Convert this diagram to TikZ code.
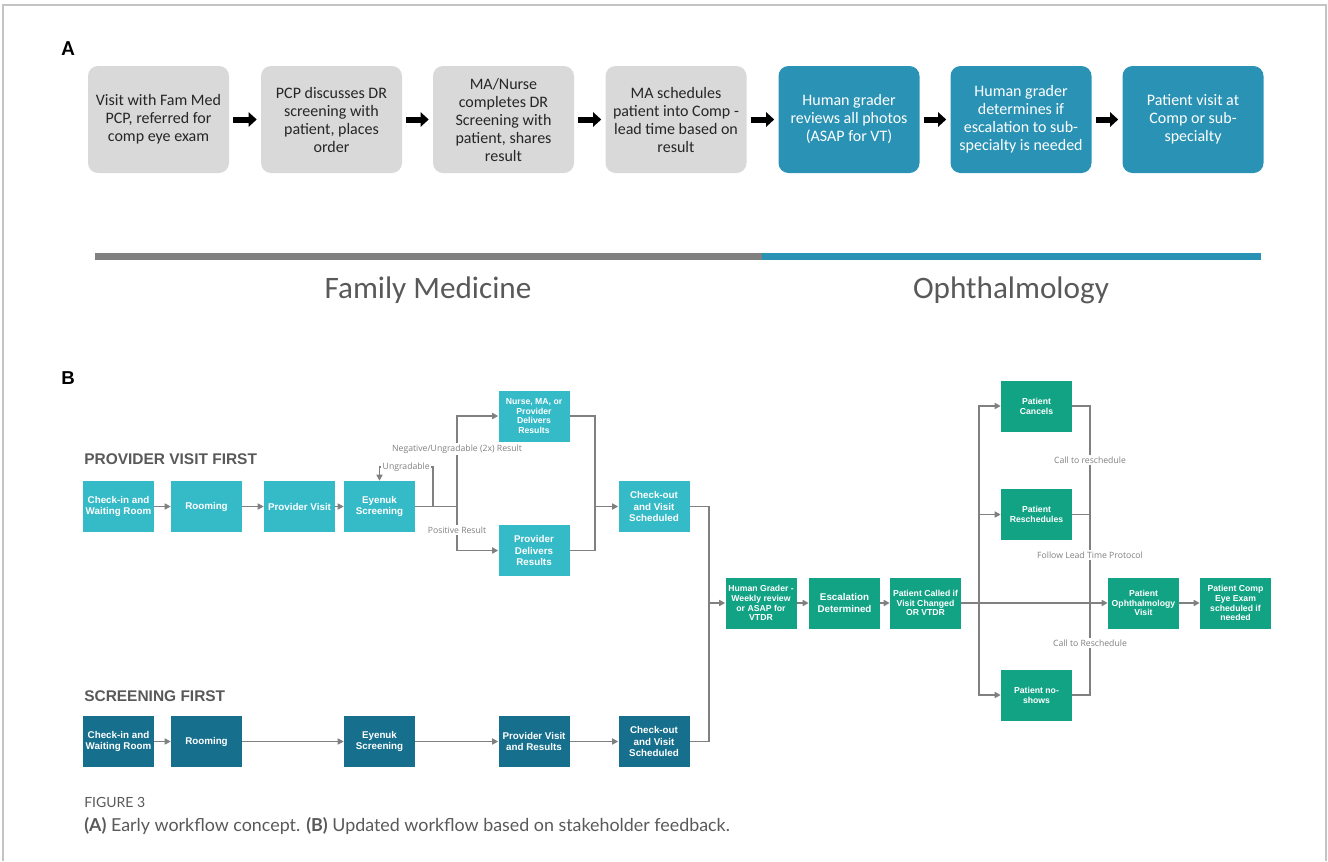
\documentclass[tikz,border=0pt]{standalone}
\usepackage{fontspec}
\setmainfont{Carlito}
\newfontfamily\arialfont{Liberation Sans}
\newfontfamily\labelfont{Open Sans}
\newfontfamily\captionfont{Lato}
\usetikzlibrary{arrows.meta}
\definecolor{boxgray}{HTML}{D9D9D9}
\definecolor{ophblue}{HTML}{2A93B5}
\definecolor{lightteal}{HTML}{35BAC8}
\definecolor{darkteal}{HTML}{166F8D}
\definecolor{stepgreen}{HTML}{12A385}
\definecolor{linegray}{HTML}{808080}
\definecolor{textgray}{HTML}{595959}
\definecolor{framegray}{HTML}{C4C4C4}
\begin{document}
\begin{tikzpicture}[x=0.75pt,y=-0.75pt,>={Triangle[length=4.5pt,width=4.5pt]}]
  \tikzstyle{stageA}=[rounded corners=7.5pt, minimum width=105.75pt, minimum height=80.25pt,
    align=center, inner sep=2pt, font=\fontsize{12}{13.5}\selectfont]
  \tikzstyle{fmbox}=[stageA, fill=boxgray, text=black!85]
  \tikzstyle{ophbox}=[stageA, fill=ophblue, text=white]
  \tikzstyle{bigarrow}=[line width=4.5pt, -{Triangle[length=6pt,width=10.5pt]},
    shorten <=3pt, shorten >=3pt]
  \tikzstyle{stepbox}=[minimum width=53.25pt, minimum height=38.25pt, inner sep=1pt,
    align=center, text=white, font=\arialfont\bfseries\fontsize{7.35}{8.3}\selectfont]
  \tikzstyle{stepsmall}=[stepbox, font=\arialfont\bfseries\fontsize{6.5}{7.4}\selectfont]
  \tikzstyle{flow}=[draw=linegray, line width=1.4pt, ->]
  \tikzstyle{wire}=[draw=linegray, line width=1.4pt]
  \tikzstyle{cond}=[fill=white, inner sep=1pt, text=linegray,
    font=\labelfont\fontsize{6.5}{7}\selectfont]
  \tikzstyle{rowtitle}=[anchor=west, inner sep=0pt, text=textgray,
    font=\arialfont\bfseries\fontsize{11.6}{13}\selectfont]

  \useasboundingbox (0,0) rectangle (1328,861);
  \draw[framegray, line width=1pt] (3,861) -- (3,5) -- (1326,5) -- (1326,861);

  % panel A
  \node[font=\bfseries\fontsize{16}{17}\selectfont] (labA) at (68,49) {A};
  \node[fmbox] (visit) at (158.5,119.5) {Visit with Fam Med\\PCP, referred for\\comp eye exam};
  \node[fmbox] (discuss) at (331.5,119.5) {PCP discusses DR\\screening with\\patient, places\\order};
  \node[fmbox] (complete) at (503.5,119.5) {MA/Nurse\\completes DR\\Screening with\\patient, shares\\result};
  \node[fmbox] (schedule) at (676,119.5) {MA schedules\\patient into Comp -\\lead time based on\\result};
  \node[ophbox] (review) at (849,119.5) {Human grader\\reviews all photos\\(ASAP for VT)};
  \node[ophbox] (escalate) at (1021,119.5) {Human grader\\determines if\\escalation to sub-\\specialty is needed};
  \node[ophbox] (compvisit) at (1193,119.5) {Patient visit at\\Comp or sub-\\specialty};

  \draw[bigarrow] (visit) -- (discuss);
  \draw[bigarrow] (discuss) -- (complete);
  \draw[bigarrow] (complete) -- (schedule);
  \draw[bigarrow] (schedule) -- (review);
  \draw[bigarrow] (review) -- (escalate);
  \draw[bigarrow] (escalate) -- (compvisit);

  \draw[linegray, line width=5.25pt] (95,256) -- (762,256);
  \draw[ophblue, line width=5.25pt] (762,256) -- (1261,256);
  \node[text=textgray, font=\fontsize{23.4}{26}\selectfont] (fmlabel) at (428,290) {Family Medicine};
  \node[text=textgray, font=\fontsize{23.4}{26}\selectfont] (ophlabel) at (1011,290) {Ophthalmology};

  % panel B
  \node[font=\arialfont\bfseries\fontsize{14}{15}\selectfont] (labB) at (68,378) {B};
  \node[rowtitle] (pvtitle) at (84,459) {PROVIDER VISIT FIRST};
  \node[rowtitle] (sftitle) at (84,696) {SCREENING FIRST};

  \node[stepbox, fill=lightteal] (ci1) at (118.5,506.5) {Check-in and\\Waiting Room};
  \node[stepbox, fill=lightteal] (room1) at (206.5,506.5) {Rooming};
  \node[stepbox, fill=lightteal] (pv1) at (299.5,506.5) {Provider Visit};
  \node[stepbox, fill=lightteal] (eye1) at (379.5,506.5) {Eyenuk\\Screening};
  \node[stepsmall, fill=lightteal] (nurse) at (534,416) {Nurse, MA, or\\Provider\\Delivers\\Results};
  \node[stepbox, fill=lightteal] (pdel) at (534,550.5) {Provider\\Delivers\\Results};
  \node[stepbox, fill=lightteal] (co1) at (654,506.5) {Check-out\\and Visit\\Scheduled};

  \node[stepbox, fill=darkteal] (ci2) at (118.5,741.5) {Check-in and\\Waiting Room};
  \node[stepbox, fill=darkteal] (room2) at (206.5,741.5) {Rooming};
  \node[stepbox, fill=darkteal] (eye2) at (379.5,741.5) {Eyenuk\\Screening};
  \node[stepbox, fill=darkteal] (pvr2) at (534,741.5) {Provider Visit\\and Results};
  \node[stepbox, fill=darkteal] (co2) at (654,741.5) {Check-out\\and Visit\\Scheduled};

  \node[stepsmall, fill=stepgreen] (hg) at (761,603) {Human Grader -\\Weekly review\\or ASAP for\\VTDR};
  \node[stepbox, fill=stepgreen] (esc) at (844.5,603) {Escalation\\Determined};
  \node[stepsmall, fill=stepgreen] (call) at (925.5,603) {Patient Called if\\Visit Changed\\OR VTDR};
  \node[stepsmall, fill=stepgreen] (canc) at (1036.5,406) {Patient\\Cancels};
  \node[stepsmall, fill=stepgreen] (resch) at (1036.5,514.5) {Patient\\Reschedules};
  \node[stepsmall, fill=stepgreen] (nosh) at (1036.5,695) {Patient no-\\shows};
  \node[stepsmall, fill=stepgreen] (oph) at (1143.5,603) {Patient\\Ophthalmology\\Visit};
  \node[stepsmall, fill=stepgreen] (comp) at (1235.5,603) {Patient Comp\\Eye Exam\\scheduled if\\needed};

  \coordinate (ugj) at (433,506.5);
  \coordinate (ugtop) at (433,467);
  \coordinate (split1) at (457,506.5);
  \coordinate (join1) at (595,506.5);
  \coordinate (join2) at (709,603);
  \coordinate (split2) at (979,603);
  \coordinate (back) at (1090,550);

  \draw[flow] (ci1) -- (room1);
  \draw[flow] (room1) -- (pv1);
  \draw[flow] (pv1) -- (eye1);
  \draw[wire] (eye1.east) -- (split1);
  \draw[flow] (ugj) -- (ugtop) -- node[cond] (uglbl) {Ungradable} (ugtop -| eye1.north) -- (eye1.north);
  \draw[flow] (split1) |- (nurse.west);
  \draw[flow] (split1) |- (pdel.west);
  \node[cond] (neglbl) at (457,449) {Negative/Ungradable (2x) Result};
  \node[cond] (poslbl) at (457,530) {Positive Result};
  \draw[wire] (nurse.east) -| (join1);
  \draw[wire] (pdel.east) -| (join1);
  \draw[flow] (join1) -- (co1);
  \draw[wire] (co1.east) -| (join2);
  \draw[wire] (co2.east) -| (join2);
  \draw[flow] (join2) -- (hg);

  \draw[flow] (ci2) -- (room2);
  \draw[flow] (room2) -- (eye2);
  \draw[flow] (eye2) -- (pvr2);
  \draw[flow] (pvr2) -- (co2);

  \draw[flow] (hg) -- (esc);
  \draw[flow] (esc) -- (call);
  \draw[flow] (call) -- (oph);
  \draw[flow] (split2) |- (canc.west);
  \draw[flow] (split2) |- (resch.west);
  \draw[flow] (split2) |- (nosh.west);
  \draw[wire] (canc.east) -| (back) |- (nosh.east);
  \draw[wire] (resch.east) -- (resch.east -| back);
  \node[cond] (calllbl) at (1090,460) {Call to reschedule};
  \node[cond] (leadlbl) at (1090,555) {Follow Lead Time Protocol};
  \node[cond] (nolbl) at (1090,643) {Call to Reschedule};
  \draw[flow] (oph) -- (comp);

  % caption
  \node[anchor=west, inner sep=0pt, text=textgray, font=\captionfont\fontsize{10.5}{11}\selectfont]
    (fignum) at (84,802) {FIGURE 3};
  \node[anchor=west, inner sep=0pt, text=textgray, font=\captionfont\fontsize{13.4}{14}\selectfont]
    (figcap) at (84,826) {\textbf{(A)} Early workflow concept. \textbf{(B)} Updated workflow based on stakeholder feedback.};
\end{tikzpicture}
\end{document}
